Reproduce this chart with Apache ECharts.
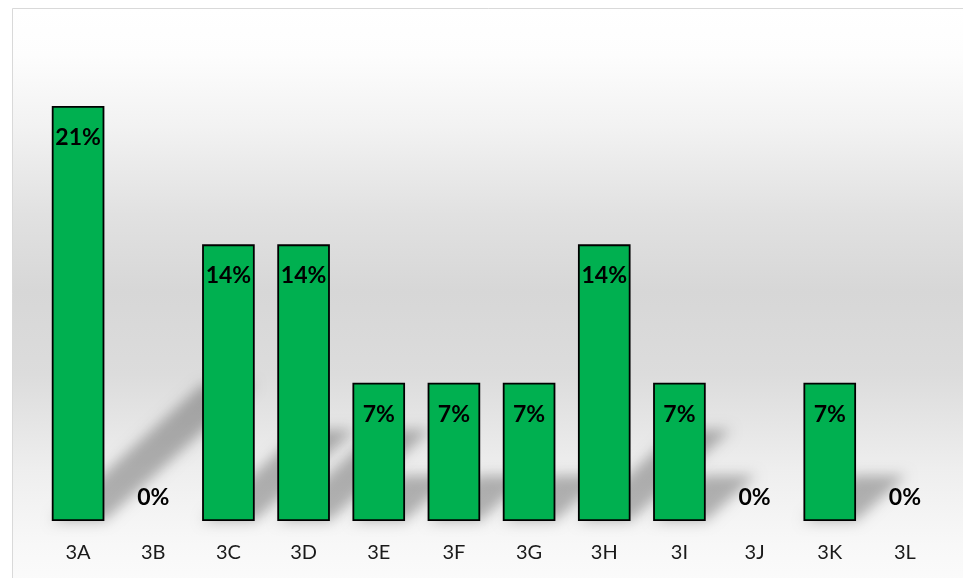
<!DOCTYPE html>
<html>
<head>
<meta charset="utf-8">
<title>Share by class</title>
<script src="https://cdn.jsdelivr.net/npm/echarts@6/dist/echarts.min.js"></script>
<style>
  html, body { margin: 0; padding: 0; background: #ffffff; }
  #chart { width: 963px; height: 578px; }
</style>
</head>
<body>
<div id="chart"></div>
<script>
// Classes and their share of the total, in percent
const categories = ['3A', '3B', '3C', '3D', '3E', '3F', '3G', '3H', '3I', '3J', '3K', '3L'];
const shares = [21, 0, 14, 14, 7, 7, 7, 14, 7, 0, 7, 0];

const BAR_FRACTION = 0.7;   // bar width as a share of one category band
const FONT = 'Lato, "Open Sans", "DejaVu Sans", sans-serif';

const chart = echarts.init(document.getElementById('chart'), null, { renderer: 'canvas' });

// Soft slanted shadow cast behind each bar, toward the upper right.
// The polygon itself sits far off to the left; only its blurred shadow
// is shifted back into place, which gives the soft edge.
const SHIFT = 3000;
function renderShadow(params, api) {
  const idx = api.value(0);
  const val = api.value(1);
  if (!val) return null;
  const base = api.coord([idx, 0]);
  const top = api.coord([idx, val]);
  const h = base[1] - top[1];
  const bw = api.size([1, 0])[0] * BAR_FRACTION;
  const x0 = base[0] - bw / 2;
  const x1 = base[0] + bw / 2;
  const rise = h * 0.33;
  const run = rise * 1.1;
  const y = base[1];
  return {
    type: 'polygon',
    shape: {
      points: [
        [x0 - SHIFT, y],
        [x1 - SHIFT, y],
        [x1 + run - SHIFT, y - rise],
        [x0 + run - SHIFT, y - rise]
      ]
    },
    style: {
      fill: '#000',
      shadowColor: 'rgba(0,0,0,0.28)',
      shadowBlur: 13,
      shadowOffsetX: SHIFT,
      shadowOffsetY: 0
    },
    silent: true
  };
}

const option = {
  animation: false,
  graphic: [{
    type: 'rect',
    z: -10,
    silent: true,
    shape: { x: 12.5, y: 8.5, width: 970, height: 590 },
    style: {
      fill: new echarts.graphic.LinearGradient(0, 0, 0, 1, [
        { offset: 0, color: '#ffffff' },
        { offset: 0.08, color: '#fdfdfd' },
        { offset: 0.2, color: '#f2f2f2' },
        { offset: 0.35, color: '#e1e1e1' },
        { offset: 0.48, color: '#d7d7d7' },
        { offset: 0.62, color: '#dcdcdc' },
        { offset: 0.78, color: '#eeeeee' },
        { offset: 0.91, color: '#f8f8f8' },
        { offset: 1, color: '#fcfcfc' }
      ]),
      stroke: '#d9d9d9',
      lineWidth: 1
    }
  }],
  grid: { left: 40.5, right: 20.5, top: 27, bottom: 57, containLabel: false },
  xAxis: {
    type: 'category',
    data: categories,
    axisLine: { show: false },
    axisTick: { show: false },
    splitLine: { show: false },
    axisLabel: {
      margin: 22,
      fontFamily: FONT,
      fontSize: 20,
      color: '#1a1a1a'
    }
  },
  yAxis: {
    type: 'value',
    min: 0,
    max: 25,
    show: false,
    splitLine: { show: false }
  },
  series: [
    {
      type: 'custom',
      name: 'shadow',
      z: 1,
      clip: false,
      silent: true,
      renderItem: renderShadow,
      data: shares.map((v, i) => [i, v])
    },
    {
      type: 'bar',
      name: 'share',
      z: 2,
      barWidth: (BAR_FRACTION * 100) + '%',
      itemStyle: {
        color: '#00b050',
        borderColor: '#000000',
        borderWidth: 1.8
      },
      data: shares.map(v => v > 0
        ? { value: v, label: { position: 'insideTop', distance: 20 } }
        : {
            value: v,
            itemStyle: { borderWidth: 0, borderColor: 'transparent', color: 'transparent' },
            label: { position: 'top', distance: 12 }
          }),
      label: {
        show: true,
        formatter: '{c}%',
        fontFamily: FONT,
        fontWeight: 'bold',
        fontSize: 23,
        color: '#000000'
      }
    }
  ]
};

chart.setOption(option);
</script>
</body>
</html>
